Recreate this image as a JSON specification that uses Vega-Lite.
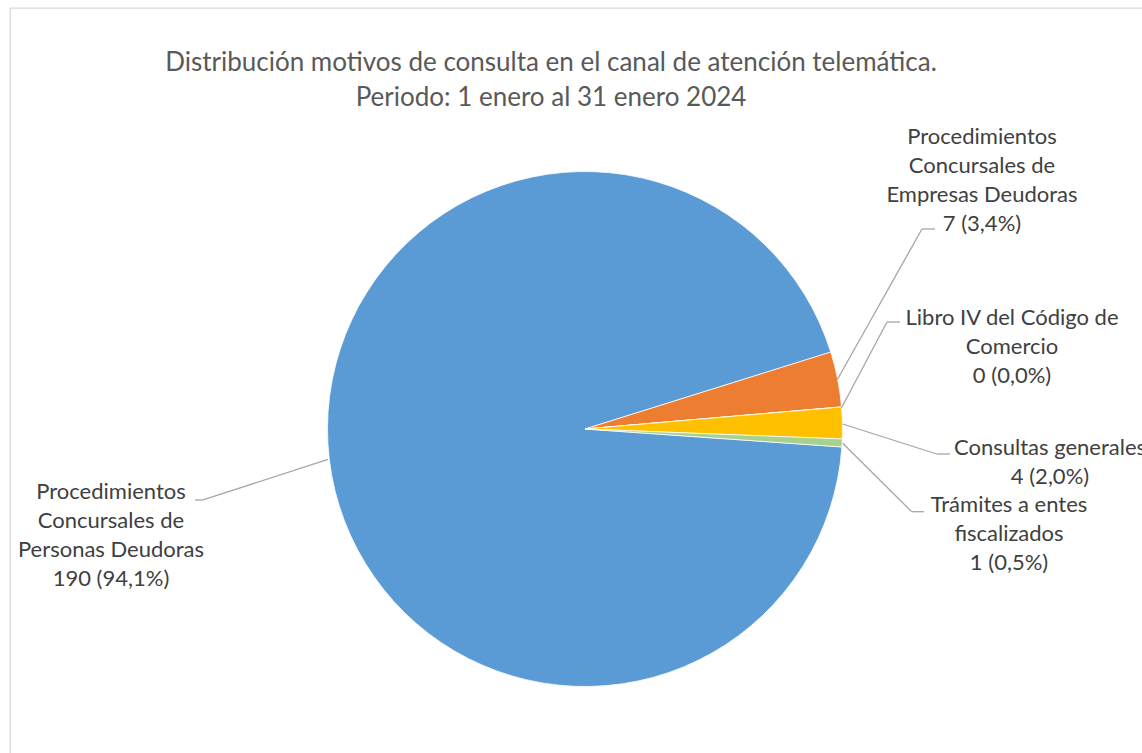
{
  "$schema": "https://vega.github.io/schema/vega-lite/v6.json",
  "autosize": {"type": "none"},
  "padding": {"left": 10, "top": 8, "right": 0, "bottom": 0},
  "width": 1150,
  "height": 842,
  "background": "white",
  "config": {
    "view": {"stroke": "#d9d9d9", "strokeWidth": 1.3},
    "font": "Lato"
  },
  "title": {
    "text": ["Distribución motivos de consulta en el canal de atención telemática.", "Periodo: 1 enero al 31 enero 2024"],
    "font": "Lato",
    "fontSize": 26,
    "fontWeight": "normal",
    "color": "#595959",
    "lineHeight": 35,
    "anchor": "middle",
    "frame": "group",
    "dx": -34,
    "baseline": "alphabetic",
    "offset": -124
  },
  "data": {
    "values": [
      {"categoria": "Procedimientos Concursales de Personas Deudoras", "valor": 190, "porcentaje": 94.1},
      {"categoria": "Procedimientos Concursales de Empresas Deudoras", "valor": 7, "porcentaje": 3.4},
      {"categoria": "Libro IV del Código de Comercio", "valor": 0, "porcentaje": 0.0},
      {"categoria": "Consultas generales", "valor": 4, "porcentaje": 2.0},
      {"categoria": "Trámites a entes fiscalizados", "valor": 1, "porcentaje": 0.5}
    ]
  },
  "transform": [
    {"window": [{"op": "row_number", "as": "orden"}]},
    {"calculate": "replace(datum.categoria, regexp('(.{1,22})( |$)', 'g'), '$1|') + datum.valor + ' (' + replace(format(datum.porcentaje, '.1f'), '.', ',') + '%)'", "as": "etiqueta"}
  ],
  "layer": [
    {
      "mark": {"type": "arc", "outerRadius": 257.5, "stroke": "white", "strokeWidth": 0.75},
      "encoding": {
        "theta": {"field": "valor", "type": "quantitative", "stack": true, "scale": {"range": [1.6406, 7.9238]}},
        "color": {
          "field": "categoria", "type": "nominal", "legend": null,
          "scale": {
            "domain": ["Procedimientos Concursales de Personas Deudoras", "Procedimientos Concursales de Empresas Deudoras", "Libro IV del Código de Comercio", "Consultas generales", "Trámites a entes fiscalizados"],
            "range": ["#5B9BD5", "#ED7D31", "#A5A5A5", "#FFC000", "#A9D18E"]
          }
        },
        "order": {"field": "orden", "type": "quantitative"}
      }
    },
    {
      "data": {"values": [{}]},
      "mark": {"type": "rule", "color": "#a6a6a6", "strokeWidth": 1.3},
      "encoding": {
        "x": {"datum": 0.9806, "type": "quantitative", "scale": {"domain": [-2.233, 2.233], "nice": false, "zero": false}, "axis": null},
        "y": {"datum": 0.1930, "type": "quantitative", "scale": {"domain": [-1.635, 1.635], "nice": false, "zero": false}, "axis": null},
        "x2": {"datum": 1.3087},
        "y2": {"datum": 0.7767}
      }
    },
    {
      "data": {"values": [{}]},
      "mark": {"type": "rule", "color": "#a6a6a6", "strokeWidth": 1.3},
      "encoding": {
        "x": {"datum": 1.3087, "type": "quantitative", "scale": {"domain": [-2.233, 2.233], "nice": false, "zero": false}, "axis": null},
        "y": {"datum": 0.7767, "type": "quantitative", "scale": {"domain": [-1.635, 1.635], "nice": false, "zero": false}, "axis": null},
        "x2": {"datum": 1.3592},
        "y2": {"datum": 0.7767}
      }
    },
    {
      "data": {"values": [{}]},
      "mark": {"type": "rule", "color": "#a6a6a6", "strokeWidth": 1.3},
      "encoding": {
        "x": {"datum": 0.9965, "type": "quantitative", "scale": {"domain": [-2.233, 2.233], "nice": false, "zero": false}, "axis": null},
        "y": {"datum": 0.0827, "type": "quantitative", "scale": {"domain": [-1.635, 1.635], "nice": false, "zero": false}, "axis": null},
        "x2": {"datum": 1.1728},
        "y2": {"datum": 0.4155}
      }
    },
    {
      "data": {"values": [{}]},
      "mark": {"type": "rule", "color": "#a6a6a6", "strokeWidth": 1.3},
      "encoding": {
        "x": {"datum": 1.1728, "type": "quantitative", "scale": {"domain": [-2.233, 2.233], "nice": false, "zero": false}, "axis": null},
        "y": {"datum": 0.4155, "type": "quantitative", "scale": {"domain": [-1.635, 1.635], "nice": false, "zero": false}, "axis": null},
        "x2": {"datum": 1.2233},
        "y2": {"datum": 0.4155}
      }
    },
    {
      "data": {"values": [{}]},
      "mark": {"type": "rule", "color": "#a6a6a6", "strokeWidth": 1.3},
      "encoding": {
        "x": {"datum": 1.0008, "type": "quantitative", "scale": {"domain": [-2.233, 2.233], "nice": false, "zero": false}, "axis": null},
        "y": {"datum": 0.0194, "type": "quantitative", "scale": {"domain": [-1.635, 1.635], "nice": false, "zero": false}, "axis": null},
        "x2": {"datum": 1.3658},
        "y2": {"datum": -0.0971}
      }
    },
    {
      "data": {"values": [{}]},
      "mark": {"type": "rule", "color": "#a6a6a6", "strokeWidth": 1.3},
      "encoding": {
        "x": {"datum": 1.3658, "type": "quantitative", "scale": {"domain": [-2.233, 2.233], "nice": false, "zero": false}, "axis": null},
        "y": {"datum": -0.0971, "type": "quantitative", "scale": {"domain": [-1.635, 1.635], "nice": false, "zero": false}, "axis": null},
        "x2": {"datum": 1.4175},
        "y2": {"datum": -0.0971}
      }
    },
    {
      "data": {"values": [{}]},
      "mark": {"type": "rule", "color": "#a6a6a6", "strokeWidth": 1.3},
      "encoding": {
        "x": {"datum": 1.0008, "type": "quantitative", "scale": {"domain": [-2.233, 2.233], "nice": false, "zero": false}, "axis": null},
        "y": {"datum": -0.0555, "type": "quantitative", "scale": {"domain": [-1.635, 1.635], "nice": false, "zero": false}, "axis": null},
        "x2": {"datum": 1.2687},
        "y2": {"datum": -0.3212}
      }
    },
    {
      "data": {"values": [{}]},
      "mark": {"type": "rule", "color": "#a6a6a6", "strokeWidth": 1.3},
      "encoding": {
        "x": {"datum": 1.2687, "type": "quantitative", "scale": {"domain": [-2.233, 2.233], "nice": false, "zero": false}, "axis": null},
        "y": {"datum": -0.3212, "type": "quantitative", "scale": {"domain": [-1.635, 1.635], "nice": false, "zero": false}, "axis": null},
        "x2": {"datum": 1.3165},
        "y2": {"datum": -0.3212}
      }
    },
    {
      "data": {"values": [{}]},
      "mark": {"type": "rule", "color": "#a6a6a6", "strokeWidth": 1.3},
      "encoding": {
        "x": {"datum": -0.9981, "type": "quantitative", "scale": {"domain": [-2.233, 2.233], "nice": false, "zero": false}, "axis": null},
        "y": {"datum": -0.1177, "type": "quantitative", "scale": {"domain": [-1.635, 1.635], "nice": false, "zero": false}, "axis": null},
        "x2": {"datum": -1.4835},
        "y2": {"datum": -0.2757}
      }
    },
    {
      "data": {"values": [{}]},
      "mark": {"type": "rule", "color": "#a6a6a6", "strokeWidth": 1.3},
      "encoding": {
        "x": {"datum": -1.4835, "type": "quantitative", "scale": {"domain": [-2.233, 2.233], "nice": false, "zero": false}, "axis": null},
        "y": {"datum": -0.2757, "type": "quantitative", "scale": {"domain": [-1.635, 1.635], "nice": false, "zero": false}, "axis": null},
        "x2": {"datum": -1.5146},
        "y2": {"datum": -0.2757}
      }
    },
    {
      "transform": [{"filter": "datum.categoria == 'Procedimientos Concursales de Empresas Deudoras'"}],
      "mark": {"type": "text", "align": "center", "baseline": "alphabetic", "font": "Lato", "fontSize": 22, "lineHeight": 29, "color": "#404040", "lineBreak": "|"},
      "encoding": {
        "x": {"datum": 1.5417, "type": "quantitative", "scale": {"domain": [-2.233, 2.233], "nice": false, "zero": false}, "axis": null},
        "y": {"datum": 1.1068, "type": "quantitative", "scale": {"domain": [-1.635, 1.635], "nice": false, "zero": false}, "axis": null},
        "text": {"field": "etiqueta"}
      }
    },
    {
      "transform": [{"filter": "datum.categoria == 'Libro IV del Código de Comercio'"}],
      "mark": {"type": "text", "align": "center", "baseline": "alphabetic", "font": "Lato", "fontSize": 22, "lineHeight": 29, "color": "#404040", "lineBreak": "|"},
      "encoding": {
        "x": {"datum": 1.6583, "type": "quantitative", "scale": {"domain": [-2.233, 2.233], "nice": false, "zero": false}, "axis": null},
        "y": {"datum": 0.4039, "type": "quantitative", "scale": {"domain": [-1.635, 1.635], "nice": false, "zero": false}, "axis": null},
        "text": {"field": "etiqueta"}
      }
    },
    {
      "transform": [{"filter": "datum.categoria == 'Consultas generales'"}],
      "mark": {"type": "text", "align": "center", "baseline": "alphabetic", "font": "Lato", "fontSize": 22, "lineHeight": 29, "color": "#404040", "lineBreak": "|"},
      "encoding": {
        "x": {"datum": 1.8058, "type": "quantitative", "scale": {"domain": [-2.233, 2.233], "nice": false, "zero": false}, "axis": null},
        "y": {"datum": -0.1010, "type": "quantitative", "scale": {"domain": [-1.635, 1.635], "nice": false, "zero": false}, "axis": null},
        "text": {"field": "etiqueta"}
      }
    },
    {
      "transform": [{"filter": "datum.categoria == 'Trámites a entes fiscalizados'"}],
      "mark": {"type": "text", "align": "center", "baseline": "alphabetic", "font": "Lato", "fontSize": 22, "lineHeight": 29, "color": "#404040", "lineBreak": "|"},
      "encoding": {
        "x": {"datum": 1.6466, "type": "quantitative", "scale": {"domain": [-2.233, 2.233], "nice": false, "zero": false}, "axis": null},
        "y": {"datum": -0.3212, "type": "quantitative", "scale": {"domain": [-1.635, 1.635], "nice": false, "zero": false}, "axis": null},
        "text": {"field": "etiqueta"}
      }
    },
    {
      "transform": [{"filter": "datum.categoria == 'Procedimientos Concursales de Personas Deudoras'"}],
      "mark": {"type": "text", "align": "center", "baseline": "alphabetic", "font": "Lato", "fontSize": 22, "lineHeight": 29, "color": "#404040", "lineBreak": "|"},
      "encoding": {
        "x": {"datum": -1.8408, "type": "quantitative", "scale": {"domain": [-2.233, 2.233], "nice": false, "zero": false}, "axis": null},
        "y": {"datum": -0.2730, "type": "quantitative", "scale": {"domain": [-1.635, 1.635], "nice": false, "zero": false}, "axis": null},
        "text": {"field": "etiqueta"}
      }
    }
  ]
}
